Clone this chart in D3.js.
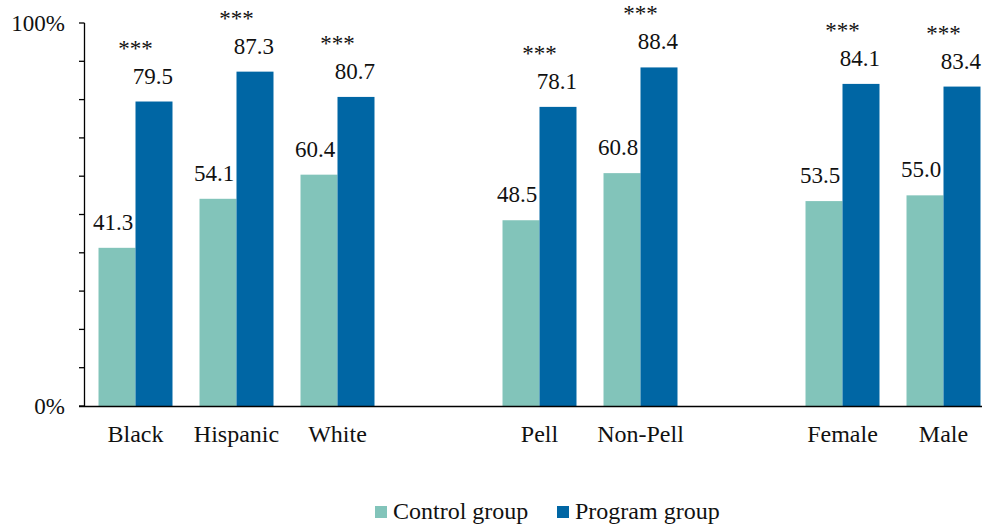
<!DOCTYPE html>
<html><head><meta charset="utf-8">
<script src="https://cdn.jsdelivr.net/npm/d3@7"></script>
</head><body style="margin:0;background:#fff">
<svg id="c" width="982" height="527" style="font-family:'Liberation Serif'"></svg>
<script>
const slots = ["Black","Hispanic","White","gap1","Pell","Non-Pell","gap2","Female","Male"];
const categories = ["Black","Hispanic","White","Pell","Non-Pell","Female","Male"];
const control = [41.3, 54.1, 60.4, 48.5, 60.8, 53.5, 55.0];
const program = [79.5, 87.3, 80.7, 78.1, 88.4, 84.1, 83.4];
const stars = ["***","***","***","***","***","***","***"];
const series = ["Control group","Program group"];
const colors = ["#82C4BA","#0066A4"];
const yTicks = [0,10,20,30,40,50,60,70,80,90,100];

const svg = d3.select("#c");
function txt(sel, size){ return sel.style("font-family", "'Liberation Serif'", "important").style("font-size",(size||23)+"px").style("fill","#111"); }

const x = d3.scaleBand().domain(slots).range([85, 994]).paddingInner(0).paddingOuter(0);
const inner = d3.scaleBand().domain(series).range([0, x.bandwidth()]).paddingInner(0).paddingOuter(0.365);
const y = d3.scaleLinear().domain([0,100]).range([406, 23]);

const data = categories.map((c,i)=>({cat:c, vals:[control[i], program[i]], star:stars[i]}));

const g = svg.append("g");
data.forEach(d=>{
  d.vals.forEach((v,j)=>{
    g.append("rect")
      .attr("x", x(d.cat)+inner(series[j]))
      .attr("y", y(v))
      .attr("width", inner.bandwidth())
      .attr("height", y(0)-y(v))
      .attr("fill", colors[j]);
    txt(g.append("text")
      .attr("x", x(d.cat)+inner(series[j])+inner.bandwidth()/2 + (j===0?-4:-1))
      .attr("y", y(v)-18)
      .attr("text-anchor","middle"))
      .text(v.toFixed(1));
  });
  txt(g.append("text")
    .attr("x", x(d.cat)+x.bandwidth()/2)
    .attr("y", y(d.vals[1])-18-28)
    .attr("text-anchor","middle"))
    .text(d.star);
});

// y axis
const ya = svg.append("g");
ya.append("line").attr("x1",84.5).attr("x2",84.5).attr("y1",y(100)).attr("y2",y(0)).attr("stroke","#000").attr("stroke-width",1.3);
yTicks.forEach(t=>{
  ya.append("line").attr("x1",79).attr("x2",84.5).attr("y1",y(t)).attr("y2",y(t)).attr("stroke","#000").attr("stroke-width",1.3);
});
txt(ya.append("text").attr("x",65).attr("y",y(100)+8).attr("text-anchor","end")).text("100%");
txt(ya.append("text").attr("x",65).attr("y",y(0)+8).attr("text-anchor","end")).text("0%");

// x axis
svg.append("line").attr("x1",79).attr("x2",982).attr("y1",y(0)+0.5).attr("y2",y(0)+0.5).attr("stroke","#000").attr("stroke-width",1.5);
categories.forEach(c=>{
  txt(svg.append("text").attr("x", x(c)+x.bandwidth()/2).attr("y", 442).attr("text-anchor","middle"), 24).text(c);
});

// legend
const lg = svg.append("g");
const lx = [375, 557];
series.forEach((s,j)=>{
  lg.append("rect").attr("x",lx[j]).attr("y",506).attr("width",12).attr("height",12).attr("fill",colors[j]);
  txt(lg.append("text").attr("x",lx[j]+18).attr("y",519), 24).text(s);
});
</script>
</body></html>
